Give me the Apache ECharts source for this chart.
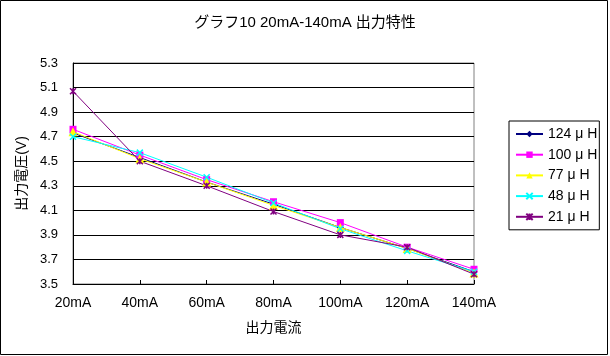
<!DOCTYPE html>
<html><head><meta charset="utf-8">
<script src="https://cdn.jsdelivr.net/npm/echarts@6/dist/echarts.min.js"></script>
<style>html,body{margin:0;padding:0;background:#fff}#c{width:610px;height:356px}</style>
</head><body><div id="c"></div>
<script>
const categories = ['20mA','40mA','60mA','80mA','100mA','120mA','140mA'];
const seriesNames = ['124 μ H','100 μ H','77 μ H','48 μ H','21 μ H'];
const s124 = [4.73, 4.53, 4.33, 4.15, 3.96, 3.79, 3.60];
const s100 = [4.76, 4.55, 4.35, 4.17, 4.00, 3.80, 3.62];
const s77  = [4.74, 4.52, 4.33, 4.14, 3.96, 3.79, 3.59];
const s48  = [4.70, 4.57, 4.37, 4.16, 3.95, 3.77, 3.60];
const s21  = [5.07, 4.50, 4.30, 4.09, 3.90, 3.80, 3.58];
const yMin = 3.5, yMax = 5.3, yStep = 0.2;

const FONT = '"Liberation Sans", "Noto Sans CJK JP", sans-serif';
const colors = ['#000080','#FF00FF','#FFFF00','#00FFFF','#800080'];
const symbols = ['diamond','rect','triangle','path://M0,0L10,10M10,0L0,10','path://M0,0L10,10M10,0L0,10M5,0L5,10'];
const sizes = [7,7,9,6,6];
const data = [s124, s100, s77, s48, s21];

const series = data.map((d,i)=>({
  name: seriesNames[i], type:'line', data:d,
  symbol: symbols[i], symbolSize: sizes[i], showSymbol:true,
  lineStyle:{color:colors[i], width:1},
  itemStyle:{color:colors[i], borderColor:colors[i], borderWidth: i>=3 ? 1.5 : 0},
  emphasis:{disabled:true}, animation:false
}));

const chart = echarts.init(document.getElementById('c'));
chart.setOption({
  animation:false,
  title:{text:'グラフ10 20mA-140mA 出力特性', left:'center', top:15, padding:0,
    textStyle:{fontFamily:FONT, fontSize:15, fontWeight:'normal', color:'#000'}},
  graphic:[{type:'rect', shape:{x:0.5,y:0.5,width:607,height:354}, style:{fill:null, stroke:'#000', lineWidth:1}, silent:true}],
  legend:{orient:'vertical', left:509, top:121, padding:[6,2,6,6], borderColor:'#000', borderWidth:1,
    itemWidth:27, itemHeight:8, itemGap:6.7,
    textStyle:{fontFamily:FONT, fontSize:14, color:'#000', lineHeight:14},
    data: seriesNames},
  grid:{left:73, right:136, top:63, bottom:72, show:true, borderColor:'#808080', borderWidth:1, containLabel:false},
  xAxis:{type:'category', data:categories, boundaryGap:false,
    name:'出力電流', nameLocation:'middle', nameGap:37,
    nameTextStyle:{fontFamily:FONT, fontSize:14, color:'#000'},
    axisLine:{lineStyle:{color:'#000', width:1}},
    axisTick:{show:true, inside:true, length:4, lineStyle:{color:'#000'}},
    axisLabel:{fontFamily:FONT, fontSize:14, color:'#000', margin:12},
    splitLine:{show:false}},
  yAxis:{type:'value', min:yMin, max:yMax, interval:yStep,
    name:'出力電圧(V)', nameLocation:'middle', nameGap:42,
    nameTextStyle:{fontFamily:FONT, fontSize:14, color:'#000'},
    axisLine:{show:true, lineStyle:{color:'#000', width:1}},
    axisTick:{show:false},
    axisLabel:{fontFamily:FONT, fontSize:13, color:'#000', margin:15, formatter:v=>v.toFixed(1)},
    splitLine:{show:true, lineStyle:{color:'#000', width:1}}},
  series: series
});
</script></body></html>
